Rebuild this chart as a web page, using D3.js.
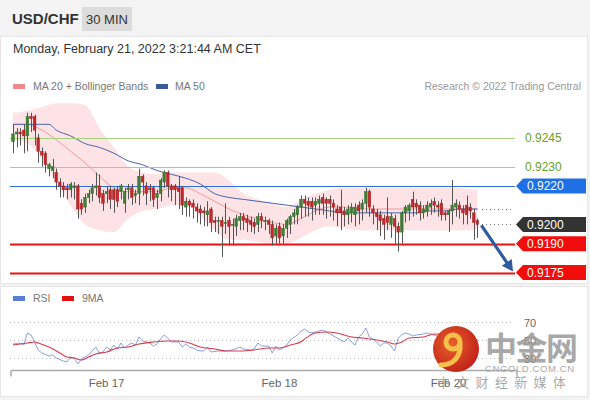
<!DOCTYPE html>
<html><head><meta charset="utf-8">
<script src="https://cdn.jsdelivr.net/npm/d3@7"></script>
<style>
html,body{margin:0;padding:0;background:#f3f3f3;}
svg{display:block;font-family:"Liberation Sans",Arial,sans-serif;}
</style></head><body>
<svg id="c" width="590" height="400"></svg>
<script>
// ---------- DATA ----------
const opens  = [0.9243,0.9247,0.9248,0.9249,0.9246,0.9256,0.9256,0.9245,0.9238,0.9237,0.9229,0.9228,0.9227,0.9222,0.9220,0.9219,0.9218,0.9219,0.9220,0.9211,0.9209,0.9214,0.9216,0.9219,0.9220,0.9216,0.9216,0.9218,0.9218,0.9218,0.9217,0.9211,0.9218,0.9219,0.9215,0.9216,0.9225,0.9220,0.9219,0.9219,0.9214,0.9216,0.9222,0.9227,0.9220,0.9220,0.9219,0.9219,0.9209,0.9212,0.9211,0.9209,0.9208,0.9207,0.9205,0.9208,0.9202,0.9202,0.9202,0.9201,0.9202,0.9200,0.9199,0.9202,0.9204,0.9203,0.9202,0.9201,0.9200,0.9204,0.9202,0.9202,0.9200,0.9194,0.9199,0.9194,0.9198,0.9200,0.9204,0.9205,0.9209,0.9213,0.9212,0.9212,0.9210,0.9211,0.9214,0.9213,0.9213,0.9211,0.9208,0.9209,0.9207,0.9205,0.9206,0.9205,0.9210,0.9208,0.9211,0.9217,0.9208,0.9206,0.9205,0.9203,0.9204,0.9200,0.9203,0.9199,0.9196,0.9206,0.9207,0.9213,0.9211,0.9210,0.9206,0.9207,0.9209,0.9212,0.9210,0.9211,0.9206,0.9205,0.9207,0.9209,0.9210,0.9208,0.9210,0.9209,0.9206,0.9202];
const highs  = [0.9252,0.9250,0.9250,0.9252,0.9258,0.9258,0.9257,0.9247,0.9240,0.9238,0.9232,0.9234,0.9229,0.9224,0.9222,0.9221,0.9222,0.9222,0.9221,0.9213,0.9216,0.9218,0.9221,0.9227,0.9226,0.9218,0.9220,0.9220,0.9219,0.9220,0.9221,0.9219,0.9221,0.9221,0.9218,0.9229,0.9226,0.9222,0.9221,0.9220,0.9218,0.9224,0.9228,0.9228,0.9221,0.9221,0.9225,0.9220,0.9214,0.9213,0.9213,0.9211,0.9210,0.9209,0.9212,0.9209,0.9204,0.9204,0.9204,0.9211,0.9204,0.9203,0.9205,0.9206,0.9206,0.9205,0.9204,0.9203,0.9206,0.9206,0.9204,0.9203,0.9202,0.9200,0.9201,0.9200,0.9203,0.9205,0.9208,0.9210,0.9215,0.9215,0.9214,0.9214,0.9214,0.9215,0.9216,0.9214,0.9215,0.9213,0.9210,0.9218,0.9209,0.9210,0.9211,0.9211,0.9212,0.9213,0.9219,0.9218,0.9210,0.9208,0.9207,0.9205,0.9214,0.9206,0.9205,0.9201,0.9207,0.9210,0.9211,0.9217,0.9213,0.9212,0.9210,0.9212,0.9213,0.9214,0.9212,0.9213,0.9207,0.9208,0.9223,0.9213,0.9212,0.9210,0.9215,0.9211,0.9208,0.9203];
const lows   = [0.9237,0.9240,0.9241,0.9237,0.9238,0.9248,0.9241,0.9232,0.9230,0.9227,0.9225,0.9224,0.9218,0.9214,0.9214,0.9213,0.9214,0.9213,0.9203,0.9205,0.9206,0.9211,0.9212,0.9215,0.9211,0.9207,0.9211,0.9208,0.9206,0.9209,0.9213,0.9206,0.9213,0.9210,0.9211,0.9210,0.9215,0.9210,0.9212,0.9209,0.9208,0.9212,0.9219,0.9214,0.9212,0.9210,0.9208,0.9205,0.9204,0.9204,0.9203,0.9201,0.9200,0.9199,0.9199,0.9196,0.9196,0.9195,0.9183,0.9195,0.9189,0.9189,0.9194,0.9197,0.9197,0.9196,0.9196,0.9195,0.9196,0.9198,0.9197,0.9195,0.9189,0.9190,0.9190,0.9190,0.9193,0.9195,0.9200,0.9200,0.9203,0.9204,0.9204,0.9202,0.9205,0.9205,0.9205,0.9203,0.9204,0.9202,0.9199,0.9197,0.9199,0.9200,0.9201,0.9199,0.9200,0.9202,0.9206,0.9204,0.9200,0.9197,0.9194,0.9192,0.9197,0.9193,0.9190,0.9186,0.9190,0.9201,0.9202,0.9204,0.9205,0.9202,0.9203,0.9204,0.9205,0.9206,0.9204,0.9202,0.9202,0.9196,0.9200,0.9204,0.9203,0.9200,0.9200,0.9203,0.9192,0.9193];
const closes = [0.9247,0.9248,0.9247,0.9246,0.9256,0.9255,0.9249,0.9238,0.9236,0.9231,0.9231,0.9230,0.9222,0.9220,0.9218,0.9218,0.9221,0.9220,0.9208,0.9208,0.9214,0.9216,0.9219,0.9220,0.9214,0.9211,0.9217,0.9213,0.9213,0.9212,0.9220,0.9217,0.9219,0.9214,0.9216,0.9225,0.9222,0.9216,0.9218,0.9213,0.9216,0.9223,0.9227,0.9220,0.9218,0.9218,0.9217,0.9210,0.9212,0.9210,0.9209,0.9207,0.9206,0.9206,0.9207,0.9201,0.9201,0.9202,0.9199,0.9201,0.9199,0.9200,0.9203,0.9204,0.9202,0.9201,0.9200,0.9199,0.9204,0.9202,0.9202,0.9200,0.9193,0.9198,0.9193,0.9198,0.9202,0.9204,0.9206,0.9209,0.9213,0.9211,0.9210,0.9209,0.9212,0.9213,0.9211,0.9211,0.9211,0.9209,0.9206,0.9206,0.9205,0.9208,0.9209,0.9209,0.9207,0.9211,0.9217,0.9209,0.9206,0.9204,0.9202,0.9200,0.9201,0.9204,0.9199,0.9196,0.9206,0.9209,0.9210,0.9209,0.9209,0.9206,0.9208,0.9210,0.9211,0.9210,0.9209,0.9205,0.9205,0.9207,0.9210,0.9211,0.9208,0.9206,0.9205,0.9207,0.9201,0.9200];

const bandBars = [0,4,8,12,16,20,24,28,32,36,40,44,48,52,56,60,64,68,72,76,80,84,88,92,96,100,104,108,112,116,120,124,128,129];
const bbUpper  = [0.9258,0.9259,0.9261,0.9263,0.9263,0.9262,0.9250,0.9240,0.9230,0.9227,0.9226,0.9227,0.9227,0.9227,0.9227,0.9223,0.9216,0.9213,0.9211,0.9209,0.9213,0.9216,0.9218,0.9219,0.9219,0.9219,0.9219,0.9219,0.9219,0.9219,0.9219,0.9219,0.9218,0.9218];
const ma20     = [0.9252,0.9252,0.9249,0.9244,0.9238,0.9232,0.9225,0.9219,0.9217,0.9217,0.9217,0.9219,0.9219,0.9216,0.9212,0.9208,0.9205,0.9203,0.9201,0.9200,0.9203,0.9207,0.9209,0.9209,0.9208,0.9208,0.9208,0.9208,0.9208,0.9208,0.9208,0.9208,0.9208,0.9208];
const bbLower  = [0.9244,0.9242,0.9234,0.9222,0.9210,0.9200,0.9197,0.9196,0.9203,0.9207,0.9208,0.9210,0.9210,0.9204,0.9197,0.9192,0.9192,0.9191,0.9190,0.9190,0.9193,0.9197,0.9199,0.9198,0.9197,0.9197,0.9197,0.9197,0.9197,0.9197,0.9197,0.9197,0.9197,0.9198];
const ma50Bars = [0,4,8,10,12,16,20,24,28,32,36,40,44,48,52,56,60,64,68,72,76,80,84,88,92,100,108,112,116,120,124,129];
const ma50     = [0.9252,0.9252,0.9252,0.9252,0.9249,0.9246,0.9242,0.9240,0.9237,0.9233,0.9231,0.9228,0.9226,0.9224,0.9221,0.9216,0.9214,0.9213,0.9212,0.9211,0.9210,0.9209,0.9208,0.9207,0.9206,0.9206,0.9206,0.9206,0.9207,0.9207,0.9208,0.9208];

const rsiBars = [0,2,3,4,5,6,7,8,10,11,12,14,15,16,17,18,19,21,22,23,24,25,26,27,28,29,30,31,32,33,34,35,36,37,38,39,40,41,42,43,44,46,47,48,49,50,51,52,53,54,55,57,58,59,61,63,64,66,67,68,69,71,72,73,74,75,76,77,79,80,81,82,83,85,86,87,89,90,92,93,94,95,96,97,98,99,100,101,102,103,104,105,106,107,108,109,110,111,112,114,115,116,118,120,122,124,126,128,129];
const rsi     = [45.6,46.7,44.5,57.7,55.5,47.8,39.1,35.8,32.5,33.6,30.3,27.0,26.0,31.4,30.3,23.8,29.2,33.6,38.0,42.3,35.8,36.9,42.3,39.1,44.5,40.2,46.7,41.3,44.5,46.7,44.5,53.3,48.9,47.8,46.7,43.4,45.6,51.1,55.5,52.2,47.8,47.8,42.3,45.6,42.3,41.3,39.1,38.0,38.0,42.3,36.9,38.0,38.0,38.0,39.1,42.3,40.2,39.1,40.2,46.7,43.4,43.4,35.8,43.4,39.1,41.3,44.5,50.0,55.5,59.8,62.0,58.8,57.7,59.9,60.9,58.8,54.4,52.2,47.8,52.2,47.8,44.5,53.3,56.6,63.1,53.3,51.1,47.8,43.4,46.7,46.7,43.4,38.0,52.2,55.5,57.7,56.6,54.4,55.5,56.6,57.7,56.6,54.0,52.0,57.0,54.0,51.0,45.0,42.0];
const maBars  = [0,4,6,7,10,13,15,17,19,21,23,26,29,32,35,39,43,46,49,52,56,59,63,67,71,74,77,80,81,84,87,90,94,97,101,104,106,108,110,114,117,120,123,126,129];
const rsiMA   = [44.5,46.7,47.8,46.7,42.3,35.8,31.4,30.3,28.1,31.4,34.7,36.9,41.3,42.3,45.6,47.8,48.9,48.9,46.7,42.3,40.2,38.0,38.0,39.1,41.3,41.3,44.5,48.0,51.0,57.7,58.8,57.7,53.3,52.2,50.0,47.8,45.6,47.8,52.2,53.3,56.6,56.0,55.0,53.0,50.0];
const rsiLevels = [70,50,30];

const dateLabels = ["Feb 17","Feb 18","Feb 20"];
const dateBars   = [26,74,121];

const levelValues = [0.9245,0.9230,0.9220,0.9200,0.9190,0.9175];
const levelKinds  = ["green","green","blue","last","red","red"];
const lastClose = closes[closes.length-1];
const lastMA50 = ma50[ma50.length-1];

// ---------- SETUP ----------
const svg = d3.select("#c");
const N = closes.length;
const x = d3.scaleBand().domain(d3.range(N)).range([11.2, 11.2 + 3.6*N]).paddingInner(0.3).paddingOuter(0.15);
const cx = i => x(i) + x.bandwidth()/2;
const y = d3.scaleLinear().domain([0.9175, 0.9245]).range([272.5, 137.8]);
const yr = d3.scaleLinear().domain([30, 70]).range([358.3, 321.7]);

// panels
svg.append("rect").attr("x",0).attr("y",0).attr("width",590).attr("height",400).attr("fill","#f3f3f3");
svg.append("rect").attr("x",0.5).attr("y",36.5).attr("width",587).attr("height",247).attr("fill","#fff").attr("stroke","#e6e6e6");
svg.append("rect").attr("x",0.5).attr("y",286.5).attr("width",587).attr("height",110).attr("fill","#fff").attr("stroke","#e6e6e6");

// header
svg.append("text").attr("x",12).attr("y",24).attr("font-size",15).attr("font-weight","bold").attr("fill","#333").text("USD/CHF");
svg.append("rect").attr("x",82).attr("y",7).attr("width",50).attr("height",24).attr("fill","#dcdcdc");
svg.append("text").attr("x",107).attr("y",24).attr("text-anchor","middle").attr("font-size",13).attr("fill","#333").text("30 MIN");
svg.append("text").attr("x",13).attr("y",53).attr("font-size",12.5).attr("fill","#333").text("Monday, February 21, 2022 3:21:44 AM CET");

// legend
svg.append("rect").attr("x",13).attr("y",84).attr("width",12).attr("height",5).attr("fill","#f08a8a");
svg.append("text").attr("x",33).attr("y",90).attr("font-size",10.5).attr("fill","#777").text("MA 20 + Bollinger Bands");
svg.append("rect").attr("x",156).attr("y",84).attr("width",12).attr("height",5).attr("fill","#3d5a98");
svg.append("text").attr("x",175).attr("y",90).attr("font-size",10.5).attr("fill","#777").text("MA 50");
svg.append("text").attr("x",581).attr("y",90).attr("text-anchor","end").attr("font-size",10.5).attr("fill","#999").text("Research \u00A9 2022 Trading Central");

// bollinger band
const bandData = bandBars.map((b,k)=>({b, u:bbUpper[k], m:ma20[k], l:bbLower[k]}));
svg.append("path").datum(bandData)
  .attr("d", d3.area().x(d=>cx(d.b)).y0(d=>y(d.l)).y1(d=>y(d.u)).curve(d3.curveMonotoneX))
  .attr("fill","#fde3e5");
svg.append("path").datum(bandData)
  .attr("d", d3.line().x(d=>cx(d.b)).y(d=>y(d.m)).curve(d3.curveMonotoneX))
  .attr("fill","none").attr("stroke","#f29a9a").attr("stroke-width",1);
svg.append("path").datum(ma50Bars.map((b,k)=>({b,v:ma50[k]})))
  .attr("d", d3.line().x(d=>cx(d.b)).y(d=>y(d.v)).curve(d3.curveMonotoneX))
  .attr("fill","none").attr("stroke","#4a64a8").attr("stroke-width",1);

// level lines
const colors = {green:"#a5d17a", blue:"#2f6fde", red:"#ee1111", last:"#999"};
levelValues.forEach((v,k)=>{
  const kind = levelKinds[k], yy = Math.round(y(v))+0.5;
  if (kind==="last") return;
  svg.append("line").attr("x1",10).attr("x2",515).attr("y1",yy).attr("y2",yy)
    .attr("stroke",colors[kind]).attr("stroke-width", kind==="red"?2:(kind==="blue"?1.2:1));
});
// dotted guides
[lastClose, lastMA50].forEach(v=>{
  const yy = Math.round(y(v))+0.5;
  svg.append("line").attr("x1",482).attr("x2",514).attr("y1",yy).attr("y2",yy)
    .attr("stroke","#777").attr("stroke-width",1).attr("stroke-dasharray","1,3");
});

// candles
const candles = d3.range(N).map(i=>({i,o:opens[i],h:highs[i],l:lows[i],c:closes[i]}));
const g = svg.append("g");
g.selectAll("line.w").data(candles).join("line")
  .attr("x1",d=>Math.round(cx(d.i))+0.5).attr("x2",d=>Math.round(cx(d.i))+0.5)
  .attr("y1",d=>y(d.h)).attr("y2",d=>y(d.l)).attr("stroke","#555").attr("stroke-width",1);
g.selectAll("rect.b").data(candles).join("rect")
  .attr("x",d=>cx(d.i)-1.3).attr("width",2.6)
  .attr("y",d=>y(Math.max(d.o,d.c))).attr("height",d=>Math.max(1,Math.abs(y(d.o)-y(d.c))))
  .attr("fill",d=>d.c>=d.o?"#3f7f35":"#c0282b").attr("stroke",d=>d.c>=d.o?"#2f6a28":"#a01f22").attr("stroke-width",0.5);

// labels
levelValues.forEach((v,k)=>{
  const kind = levelKinds[k], yy = y(v);
  const txt = v.toFixed(4);
  if (kind==="green") {
    svg.append("text").attr("x",525).attr("y",yy+4.5).attr("font-size",12).attr("fill","#6aa222").text(txt);
  } else {
    const fill = kind==="blue"?"#1f6fe5":(kind==="last"?"#333":"#f20d0d");
    const h = 15, x0 = 516, x1 = 586;
    svg.append("path").attr("d",`M${x0},${yy} L${x0+7},${yy-h/2} L${x1},${yy-h/2} L${x1},${yy+h/2} L${x0+7},${yy+h/2} Z`).attr("fill",fill);
    svg.append("text").attr("x",527).attr("y",yy+4.5).attr("font-size",12).attr("fill","#fff").text(txt);
  }
});

// projection arrow
const ax0 = cx(N-1)+4, ay0 = y(lastClose)+1, ax1 = 513, ay1 = y(0.9175)-1;
const ang = Math.atan2(ay1-ay0, ax1-ax0);
svg.append("line").attr("x1",ax0).attr("y1",ay0).attr("x2",ax1-9*Math.cos(ang)).attr("y2",ay1-9*Math.sin(ang))
  .attr("stroke","#2d5b9e").attr("stroke-width",3.2);
const hl=11, hw=6;
const bx = ax1-hl*Math.cos(ang), by = ay1-hl*Math.sin(ang);
svg.append("path").attr("d",`M${ax1},${ay1} L${bx+hw*Math.sin(ang)},${by-hw*Math.cos(ang)} L${bx-hw*Math.sin(ang)},${by+hw*Math.cos(ang)} Z`).attr("fill","#2d5b9e");

// ---------- RSI PANEL ----------
svg.append("rect").attr("x",13).attr("y",296).attr("width",12).attr("height",5).attr("fill","#5b7fd6");
svg.append("text").attr("x",33).attr("y",302).attr("font-size",10.5).attr("fill","#777").text("RSI");
svg.append("rect").attr("x",62).attr("y",296).attr("width",12).attr("height",5).attr("fill","#e01010");
svg.append("text").attr("x",82).attr("y",302).attr("font-size",10.5).attr("fill","#777").text("9MA");

rsiLevels.forEach(v=>{
  const yy = Math.round(yr(v))+0.5;
  svg.append("line").attr("x1",10).attr("x2",512).attr("y1",yy).attr("y2",yy)
    .attr("stroke","#bbb").attr("stroke-dasharray","1,3");
  svg.append("text").attr("x",524).attr("y",yy+4).attr("font-size",11).attr("fill","#666").text(v);
});
svg.append("path").datum(rsiBars.map((b,k)=>({b,v:rsi[k]})))
  .attr("d", d3.line().x(d=>cx(d.b)).y(d=>yr(d.v)))
  .attr("fill","none").attr("stroke","#7d95d8").attr("stroke-width",0.9);
svg.append("path").datum(maBars.map((b,k)=>({b,v:rsiMA[k]})))
  .attr("d", d3.line().x(d=>cx(d.b)).y(d=>yr(d.v)).curve(d3.curveMonotoneX))
  .attr("fill","none").attr("stroke","#d83a4a").attr("stroke-width",1.1);

// x axis
const axY = 370.5;
svg.append("line").attr("x1",11).attr("x2",517).attr("y1",axY).attr("y2",axY).attr("stroke","#aaa").attr("stroke-width",1.5);
[11,517].forEach(xx=>svg.append("line").attr("x1",xx).attr("x2",xx).attr("y1",axY).attr("y2",axY+6).attr("stroke","#aaa").attr("stroke-width",1.5));
dateLabels.forEach((t,k)=>{
  svg.append("text").attr("x",cx(dateBars[k])).attr("y",387).attr("text-anchor","middle").attr("font-size",11.5).attr("fill","#666").text(t);
});

// ---------- WATERMARK ----------
const wm = svg.append("g");
const grad = svg.append("defs").append("radialGradient").attr("id","lg").attr("cx","40%").attr("cy","40%").attr("r","65%");
grad.append("stop").attr("offset","0%").attr("stop-color","#e8602a");
grad.append("stop").attr("offset","100%").attr("stop-color","#c0201a");
wm.append("circle").attr("cx",456).attr("cy",349).attr("r",23).attr("fill","url(#lg)");
wm.append("circle").attr("cx",453).attr("cy",342).attr("r",7).attr("fill","none").attr("stroke","#f7c04a").attr("stroke-width",5);
wm.append("path").attr("d","M460,344 C461,357 453,365 441,365").attr("fill","none").attr("stroke","#f7c04a").attr("stroke-width",5).attr("stroke-linecap","round");
wm.append("text").attr("x",485).attr("y",360).attr("font-size",32).attr("font-weight","bold").attr("fill","#999").attr("fill-opacity",0.85)
  .attr("font-family","'Noto Sans CJK SC',sans-serif").attr("letter-spacing",-1.5).text("中金网");
wm.append("text").attr("x",485).attr("y",372).attr("font-size",9.5).attr("fill","#aaa").attr("letter-spacing",0.6).text("CNGOLD.COM.CN");
wm.append("text").attr("x",437).attr("y",387).attr("font-size",13).attr("fill","#999").attr("fill-opacity",0.85)
  .attr("font-family","'Noto Sans CJK SC',sans-serif").attr("letter-spacing",6.3).text("中文财经新媒体");
</script>
</body></html>
